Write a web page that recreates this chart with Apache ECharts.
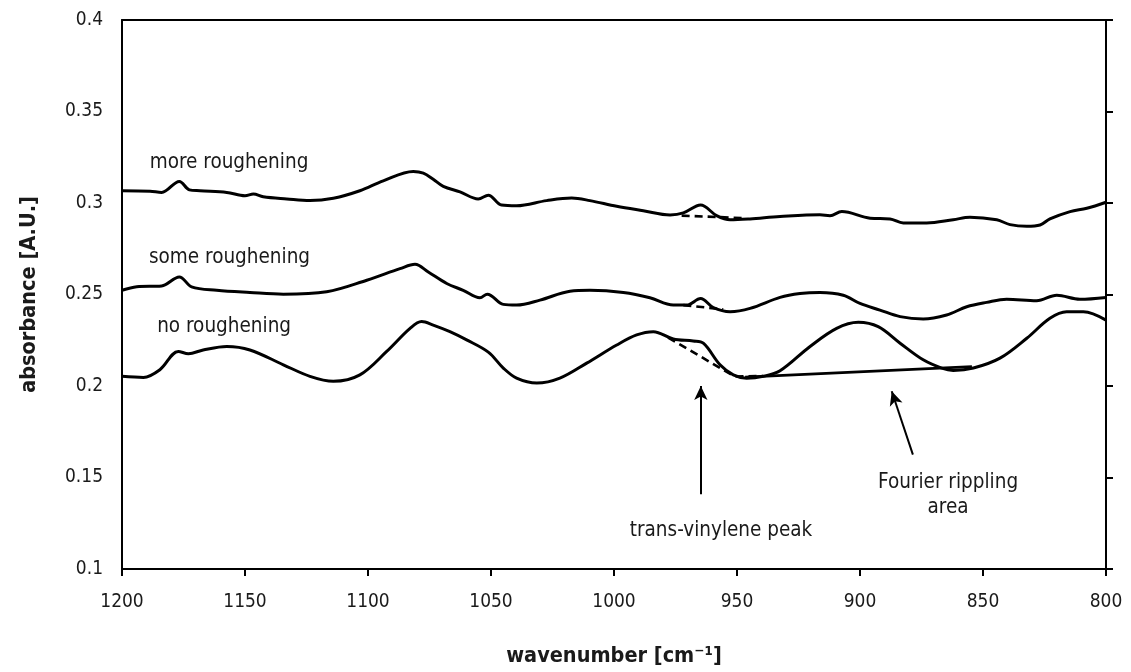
<!DOCTYPE html>
<html>
<head>
<meta charset="utf-8">
<script src="https://cdn.jsdelivr.net/npm/echarts@6/dist/echarts.min.js"></script>
<style>html,body{margin:0;padding:0;background:#fff}#c{width:1131px;height:672px}</style>
</head>
<body>
<div id="c"></div>
<script>
const xTicks = [1200, 1150, 1100, 1050, 1000, 950, 900, 850, 800];
const yTicks = [0.1, 0.15, 0.2, 0.25, 0.3, 0.35, 0.4];

const moreWn = [1200, 1188.6, 1183.9, 1176.7, 1172.6, 1168.3, 1157.4, 1150.0, 1146.6, 1142.6, 1133.0, 1123.6, 1114.1, 1103.3, 1093.8, 1081.6, 1077.5, 1073.5, 1069.4, 1062.6, 1055.2, 1051.1, 1045.7, 1039.6, 1027.4, 1017.2, 1009.8, 998.9, 988.1, 977.2, 971.8, 964.8, 958.3, 952.8, 944.7, 932.5, 916.3, 912.2, 907.4, 895.9, 887.8, 882.4, 872.9, 862.1, 855.3, 844.4, 839.0, 832.2, 826.8, 822.8, 814.6, 807.8, 800];
const moreAbs = [0.3067, 0.3064, 0.3058, 0.3118, 0.3072, 0.3067, 0.3058, 0.3040, 0.3049, 0.3034, 0.3022, 0.3013, 0.3026, 0.3067, 0.3121, 0.3172, 0.3163, 0.3130, 0.3091, 0.3061, 0.3022, 0.3043, 0.2989, 0.2985, 0.3013, 0.3027, 0.3013, 0.2982, 0.2958, 0.2935, 0.2946, 0.2989, 0.2931, 0.2908, 0.2913, 0.2926, 0.2936, 0.2931, 0.2953, 0.2917, 0.2913, 0.2891, 0.2891, 0.2909, 0.2922, 0.2908, 0.2882, 0.2873, 0.2880, 0.2913, 0.2953, 0.2971, 0.3004];

const someWn = [1200, 1194.0, 1183.9, 1176.7, 1171.7, 1161.5, 1148.0, 1134.4, 1116.8, 1100.5, 1087.0, 1080.9, 1075.5, 1068.0, 1061.3, 1054.5, 1051.5, 1045.0, 1039.6, 1030.1, 1017.9, 1009.8, 996.2, 985.4, 975.9, 970.4, 964.8, 959.6, 952.8, 944.7, 932.5, 924.4, 916.3, 906.8, 900.0, 891.9, 883.7, 874.3, 864.8, 856.6, 848.5, 840.4, 828.2, 820.0, 810.6, 800];
const someAbs = [0.2523, 0.2542, 0.2547, 0.2596, 0.2542, 0.2523, 0.2511, 0.2502, 0.2515, 0.2578, 0.2641, 0.2665, 0.2623, 0.2560, 0.2523, 0.2482, 0.2502, 0.2446, 0.2442, 0.2469, 0.2518, 0.2523, 0.2511, 0.2482, 0.2442, 0.2442, 0.2478, 0.2428, 0.2406, 0.2424, 0.2484, 0.2505, 0.2511, 0.2496, 0.2451, 0.2415, 0.2379, 0.2366, 0.2388, 0.2433, 0.2457, 0.2474, 0.2466, 0.2496, 0.2474, 0.2484];

const noWn = [1200, 1191.3, 1184.6, 1177.1, 1173.0, 1167.0, 1157.4, 1148.0, 1134.4, 1123.6, 1114.1, 1103.3, 1092.4, 1082.9, 1078.2, 1073.5, 1066.7, 1059.9, 1051.1, 1045.0, 1039.6, 1031.4, 1022.0, 1011.1, 998.9, 990.8, 984.0, 975.9, 967.8, 963.7, 956.9, 951.5, 946.1, 939.3, 932.5, 920.3, 909.5, 900.7, 892.6, 883.7, 874.3, 866.8, 862.1, 853.9, 843.1, 832.2, 822.8, 816.0, 809.2, 800];
const noAbs = [0.2053, 0.2047, 0.2089, 0.2189, 0.2176, 0.2197, 0.2216, 0.2197, 0.2116, 0.2053, 0.2026, 0.2061, 0.2189, 0.2315, 0.2352, 0.2333, 0.2297, 0.2252, 0.2185, 0.2098, 0.2043, 0.2016, 0.2043, 0.2125, 0.2224, 0.2279, 0.2297, 0.2257, 0.2246, 0.2234, 0.2116, 0.2061, 0.2043, 0.2053, 0.2083, 0.2216, 0.2315, 0.2348, 0.2324, 0.2234, 0.2143, 0.2098, 0.2085, 0.2098, 0.2152, 0.2261, 0.2370, 0.2406, 0.2406, 0.2360];

// peak baselines
const moreBaseWn = [972.5, 946.1];
const moreBaseAbs = [0.2931, 0.2917];
const someBaseWn = [971.8, 955.6];
const someBaseAbs = [0.2442, 0.2419];
const noBaseWn = [978, 951, 939.5];
const noBaseAbs = [0.2265, 0.2052, 0.2055];
const fourierWn = [946.7, 854.5];
const fourierAbs = [0.2049, 0.2106];

// annotation arrows [tailWn, tailAbs, tipWn, tipAbs]
const transArrow = [964.7, 0.1408, 964.7, 0.2000];
const fourierArrow = [878.5, 0.1625, 887.1, 0.1971];

// text labels [wn, abs, text]
const labels = [
  [1156.5, 0.3223, 'more roughening'],
  [1156.3, 0.2701, 'some roughening'],
  [1158.5, 0.2326, 'no roughening'],
  [956.5, 0.1207, 'trans-vinylene peak'],
  [864.2, 0.1405, 'Fourier rippling\narea']
];

const zip = (a, b) => a.map((v, i) => [v, b[i]]);
const FONT = '"DejaVu Sans Condensed", "DejaVu Sans", sans-serif';
const TXT = '#1a1a1a';

const curve = (name, x, y) => ({
  name, type: 'line', data: zip(x, y), smooth: 0.35, showSymbol: false, symbol: 'none',
  lineStyle: { color: '#000', width: 3 }, z: 3, silent: true
});
const dashed = (name, x, y) => ({
  name, type: 'line', data: zip(x, y), showSymbol: false, symbol: 'none',
  lineStyle: { color: '#000', width: 2.6, type: [8, 5] }, z: 4, silent: true
});

const chart = echarts.init(document.getElementById('c'), null, { renderer: 'canvas' });
chart.setOption({
  backgroundColor: '#fff',
  animation: false,
  grid: { left: 122, right: 25, top: 20, bottom: 100, containLabel: false },
  xAxis: [{
    type: 'value', min: 800, max: 1200, interval: 50, inverse: true,
    name: 'wavenumber [cm⁻¹]', nameLocation: 'middle', nameGap: 76,
    nameTextStyle: { fontFamily: FONT, fontWeight: 'bold', fontSize: 21.5, color: TXT },
    axisLine: { show: true, onZero: false, lineStyle: { color: '#000', width: 2 } },
    axisTick: { show: true, inside: false, length: 7, lineStyle: { color: '#000', width: 2 } },
    axisLabel: { margin: 24, fontFamily: FONT, fontSize: 19, color: TXT, formatter: v => xTicks.includes(v) ? String(v) : '' },
    splitLine: { show: false }
  }, {
    type: 'value', min: 800, max: 1200, inverse: true, position: 'top',
    axisLine: { show: true, onZero: false, lineStyle: { color: '#000', width: 2 } },
    axisTick: { show: false }, axisLabel: { show: false }, splitLine: { show: false }
  }],
  yAxis: [{
    type: 'value', min: 0.1, max: 0.4, interval: 0.05,
    name: 'absorbance [A.U.]', nameLocation: 'middle', nameGap: 82,
    nameTextStyle: { fontFamily: FONT, fontWeight: 'bold', fontSize: 21.5, color: TXT },
    axisLine: { show: true, onZero: false, lineStyle: { color: '#000', width: 2 } },
    axisTick: { show: false },
    axisLabel: { margin: 19, fontFamily: FONT, fontSize: 19, color: TXT,
      formatter: v => { const t = yTicks.find(k => Math.abs(k - v) < 1e-9); return t === undefined ? '' : String(t); } },
    splitLine: { show: false }
  }, {
    type: 'value', min: 0.1, max: 0.4, interval: 0.05, position: 'right',
    axisLine: { show: true, onZero: false, lineStyle: { color: '#000', width: 2 } },
    axisTick: { show: true, inside: false, length: 7, lineStyle: { color: '#000', width: 2 } },
    axisLabel: { show: false }, splitLine: { show: false }
  }],
  series: [
    curve('more roughening', moreWn, moreAbs),
    curve('some roughening', someWn, someAbs),
    curve('no roughening', noWn, noAbs),
    dashed('more baseline', moreBaseWn, moreBaseAbs),
    dashed('some baseline', someBaseWn, someBaseAbs),
    dashed('no baseline', noBaseWn, noBaseAbs),
    {
      name: 'Fourier baseline', type: 'line', data: zip(fourierWn, fourierAbs), showSymbol: false, symbol: 'none',
      lineStyle: { color: '#000', width: 2.8 }, z: 4, silent: true
    },
    {
      name: 'annotations', type: 'scatter', data: [], silent: true,
      markLine: {
        silent: true, symbol: ['none', 'arrow'], symbolSize: [10, 14], animation: false,
        label: { show: false },
        lineStyle: { color: '#000', width: 2, type: 'solid' },
        data: [
          [{ coord: [transArrow[0], transArrow[1]] }, { coord: [transArrow[2], transArrow[3]] }],
          [{ coord: [fourierArrow[0], fourierArrow[1]] }, { coord: [fourierArrow[2], fourierArrow[3]] }]
        ]
      },
      markPoint: {
        silent: true, symbol: 'circle', symbolSize: 0, animation: false,
        label: { show: true, position: 'inside', fontFamily: FONT, fontSize: 20.5, color: TXT, lineHeight: 25, align: 'center', verticalAlign: 'middle',
          formatter: p => p.data.txt },
        data: labels.map(l => ({ coord: [l[0], l[1]], txt: l[2] }))
      }
    }
  ]
});
</script>
</body>
</html>
